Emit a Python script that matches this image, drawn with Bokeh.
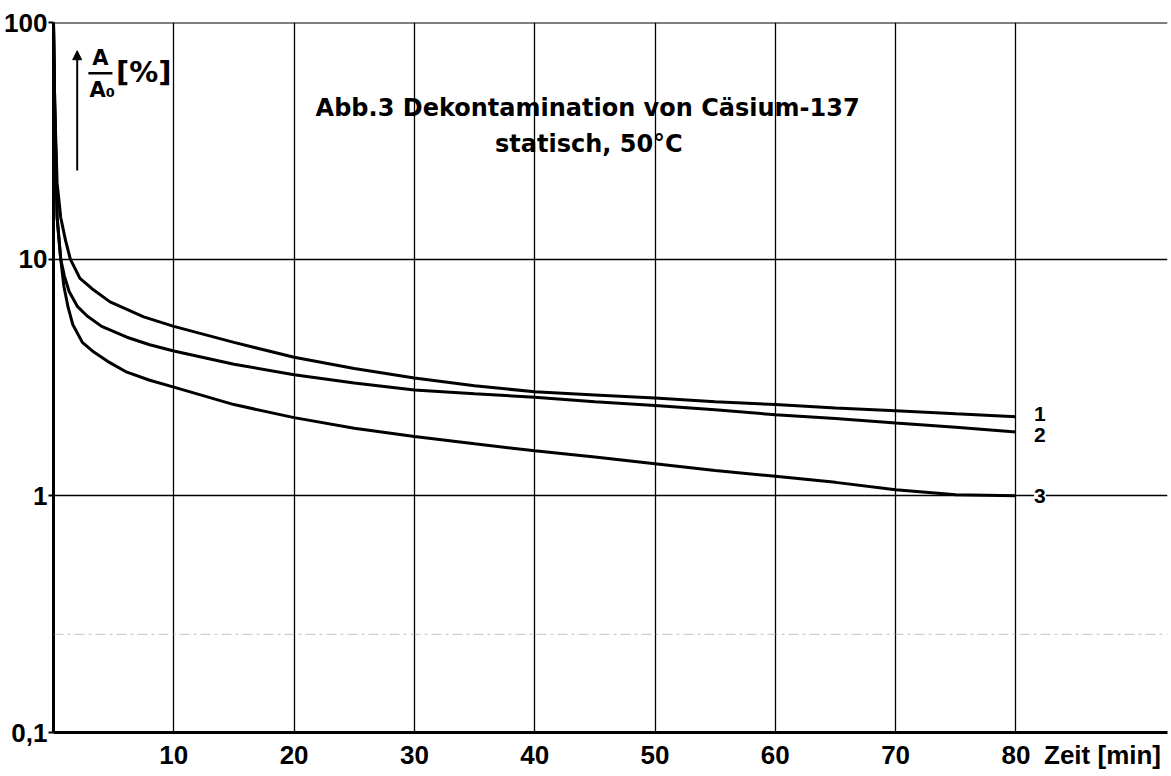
from bokeh.plotting import figure
from bokeh.models import Range1d, FixedTicker, Span, Label, Arrow, NormalHead
from bokeh.core.properties import value
from bokeh.embed import file_html
from bokeh.resources import INLINE

# ---- data ----
t1 = [0, 0.1, 0.3, 0.6, 1.0, 1.4, 2.2, 3.2, 4.7, 7.5, 10, 15, 20, 25, 30, 35, 40, 45, 50, 55, 60, 65, 70, 75, 80]
a1 = [100, 45, 21, 15, 12, 10, 8.3, 7.5, 6.6, 5.7, 5.2, 4.45, 3.85, 3.45, 3.15, 2.92, 2.75, 2.67, 2.59, 2.5, 2.43, 2.35, 2.29, 2.22, 2.16]

t2 = [0, 0.1, 0.3, 0.6, 0.9, 1.3, 2.0, 2.8, 4.0, 6.1, 8, 10, 15, 20, 25, 30, 35, 40, 45, 50, 55, 60, 65, 70, 75, 80]
a2 = [100, 45, 15, 10, 8.5, 7.3, 6.3, 5.75, 5.2, 4.68, 4.35, 4.09, 3.6, 3.25, 3.0, 2.8, 2.7, 2.61, 2.5, 2.41, 2.31, 2.2, 2.12, 2.03, 1.95, 1.86]

t3 = [0, 0.1, 0.3, 0.6, 0.86, 1.2, 1.6, 2.4, 3.35, 4.5, 6.1, 8, 10, 15, 20, 25, 30, 35, 40, 45, 50, 55, 60, 65, 70, 75, 80]
a3 = [100, 45, 15, 10, 7.7, 6.3, 5.3, 4.45, 4.05, 3.7, 3.33, 3.08, 2.88, 2.43, 2.14, 1.93, 1.78, 1.66, 1.55, 1.46, 1.365, 1.28, 1.21, 1.14, 1.06, 1.01, 1.0]

curve_names = ["1", "2", "3"]
x_ticks = [10, 20, 30, 40, 50, 60, 70, 80]
y_ticks = [0.1, 1, 10, 100]
y_tick_labels = ["0,1", "1", "10", "100"]
x_label = "Zeit [min]"
x_label_pos = 87.2
title_lines = ["Abb.3 Dekontamination von Cäsium-137", "statisch, 50°C"]

NUMFONT = "Liberation Sans"

p = figure(width=1171, height=776,
           x_range=Range1d(0, 92.6), y_range=Range1d(0.1, 100),
           y_axis_type="log", output_backend="svg", toolbar_location=None,
           min_border_left=53, min_border_right=4, min_border_top=22, min_border_bottom=44)
p.background_fill_color = "white"
p.border_fill_color = "white"
p.outline_line_color = None

# grids
p.xgrid.ticker = FixedTicker(ticks=x_ticks)
p.ygrid.ticker = FixedTicker(ticks=[1, 10])
p.xgrid.grid_line_color = "black"
p.ygrid.grid_line_color = "black"
p.xgrid.grid_line_width = 1.3
p.ygrid.grid_line_width = 1.3

# top line
p.add_layout(Span(location=100, dimension="width", line_color="black", line_width=2))
# faint scan line
p.add_layout(Span(location=0.26, dimension="width", line_color="#999999",
                  line_dash="10 4 3 4", line_width=1, line_alpha=0.6))

# axes
xa = p.xaxis[0]
xa.ticker = FixedTicker(ticks=x_ticks + [x_label_pos])
xa.major_label_overrides = {x_label_pos: x_label}
xa.axis_line_width = 3
xa.major_tick_out = 0
xa.major_tick_in = 0
xa.minor_tick_line_color = None
xa.major_label_standoff = 7
xa.major_label_text_font = NUMFONT
xa.major_label_text_font_style = "bold"
xa.major_label_text_font_size = "26px"
xa.major_label_text_color = "black"

ya = p.yaxis[0]
ya.ticker = FixedTicker(ticks=y_ticks)
ya.major_label_overrides = {v: s for v, s in zip(y_ticks, y_tick_labels)}
ya.axis_line_width = 3
ya.major_tick_out = 5
ya.major_tick_in = 0
ya.major_tick_line_width = 2
ya.minor_tick_line_color = None
ya.major_label_standoff = 1
ya.major_label_text_font = NUMFONT
ya.major_label_text_font_style = "bold"
ya.major_label_text_font_size = "26px"
ya.major_label_text_color = "black"

# curves
for t, a in [(t1, a1), (t2, a2), (t3, a3)]:
    p.line(t, a, line_color="black", line_width=3)

# curve labels
for name, a in zip(curve_names, [a1, a2, a3]):
    dy = {"1": 3, "2": -3, "3": 0}[name]
    p.add_layout(Label(x=t1[-1], y=a[-1], x_offset=24, y_offset=dy, text=name,
                       text_font=NUMFONT, text_font_style="bold", text_font_size="21px",
                       text_align="center", text_baseline="middle", text_color="black",
                       background_fill_color="white" if name == "3" else None,
                       border_line_color=None))

# y-axis arrow and label
p.add_layout(Arrow(end=NormalHead(size=9, fill_color="black", line_color="black"),
                   x_start=1.97, y_start=23.7, x_end=1.97, y_end=76.0,
                   line_color="black", line_width=2))
p.text(x=[3.9], y=[70.5], text=["A"], text_font=value("DejaVu Sans"), text_font_style="bold",
       text_font_size="21px", text_align="center", text_baseline="middle", text_color="black")
p.segment(x0=[2.9], y0=[61.1], x1=[4.9], y1=[61.1], line_color="black", line_width=2.5)
p.text(x=[3.0], y=[52.1], text=["A₀"], text_font=value("DejaVu Sans"), text_font_style="bold",
       text_font_size="21px", text_align="left", text_baseline="middle", text_color="black")
p.text(x=[7.5], y=[61.8], text=["[%]"], text_font=value("DejaVu Sans"), text_font_style="bold",
       text_font_size="29px", text_align="center", text_baseline="middle", text_color="black")

# title
p.text(x=[44.4, 44.5], y=[43.4, 30.8], text=title_lines, text_font=value("DejaVu Sans"),
       text_font_style="bold", text_font_size="24px", text_align="center",
       text_baseline="alphabetic", text_color="black")

open("out.html", "w").write(file_html(p, INLINE))
